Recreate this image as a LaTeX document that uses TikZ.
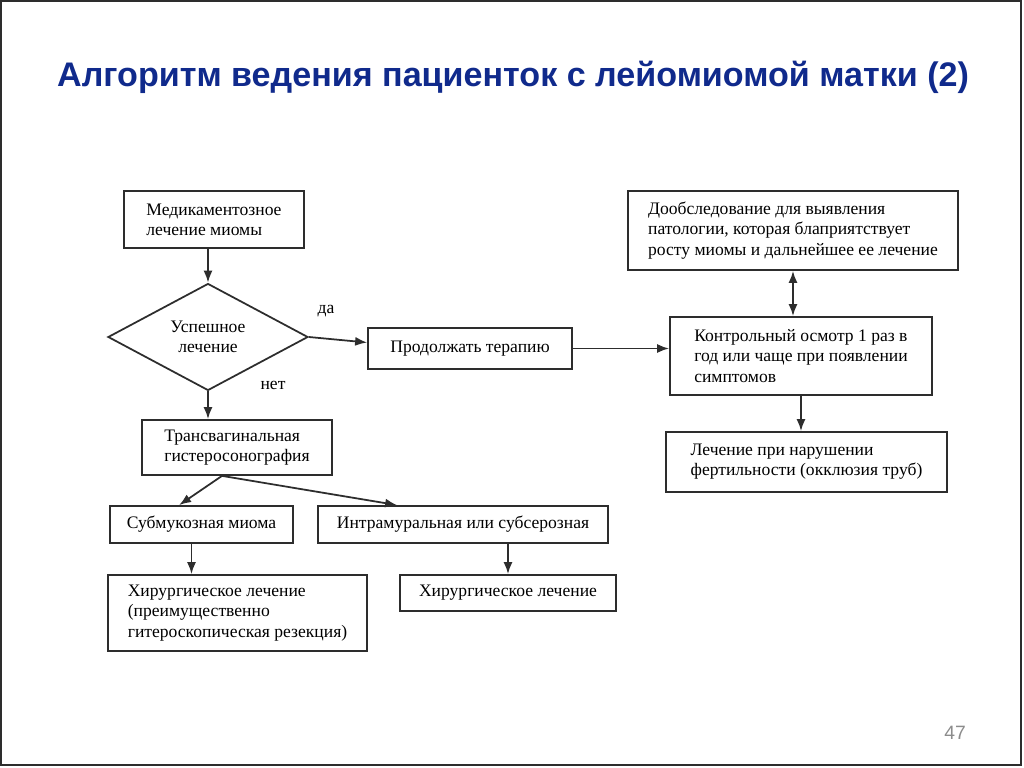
\documentclass[tikz,border=0pt]{standalone}
\usepackage{fontspec}
\setmainfont{Liberation Serif}
\newfontfamily\titlefont{Liberation Sans}
\usepackage{tikz}
\usetikzlibrary{shapes.geometric, arrows, arrows.meta}
\definecolor{titleblue}{RGB}{16, 42, 140}
\definecolor{frame}{RGB}{45, 45, 45}
\definecolor{pagegray}{RGB}{140, 140, 140}
\tikzstyle{block} = [rectangle, draw=frame, line width=1pt, align=left, inner xsep=0.25cm, inner ysep=0.1cm, font=\fontsize{10}{11.5}\selectfont]
\tikzstyle{decision} = [diamond, draw=frame, line width=1pt, align=center, inner sep=0pt, minimum width=4cm, minimum height=1.8cm, font=\fontsize{10}{11.5}\selectfont]
\tikzstyle{flow} = [line width=1pt, draw=frame, -{Latex[length=2.4mm, width=1.8mm]}]
\tikzstyle{twoway} = [line width=1pt, draw=frame, {Latex[length=2.4mm, width=1.8mm]}-{Latex[length=2.4mm, width=1.8mm]}]
\tikzstyle{answer} = [inner sep=0pt, font=\fontsize{10}{11.5}\selectfont]

\begin{document}
\begin{tikzpicture}[y=-1cm]
     \useasboundingbox (0, 0) rectangle (20.48, 15.36);
     \draw[line width=1.2pt, color=frame] (0.02, 0.02) rectangle (20.42, 15.30);
     \node (title) at (10.26, 1.54) [font=\titlefont\bfseries\fontsize{19.4}{22}\selectfont, color=titleblue]
           {Алгоритм ведения пациенток с лейомиомой матки (2)};
     \node (drugs) at (4.28, 4.39) [block, minimum width=3.6cm, minimum height=1.14cm]
           {Медикаментозное\\лечение миомы};
     \node (success) at (4.16, 6.74) [decision]
           {Успешное\\лечение};
     \node (yes) at (6.52, 6.22) [answer] {да};
     \node (no) at (5.46, 7.70) [answer] {нет};
     \node (continue) at (9.40, 6.97) [block, minimum width=4.08cm, minimum height=0.82cm]
           {Продолжать терапию};
     \node (further) at (15.86, 4.61) [block, minimum width=6.6cm, minimum height=1.58cm]
           {Дообследование для выявления\\патологии, которая блаприятствует\\росту миомы и дальнейшее ее лечение};
     \node (control) at (16.02, 7.12) [block, minimum width=5.24cm, minimum height=1.56cm]
           {Контрольный осмотр 1 раз в\\год или чаще при появлении\\симптомов};
     \node (fertility) at (16.13, 9.24) [block, minimum width=5.62cm, minimum height=1.2cm]
           {Лечение при нарушении\\фертильности (окклюзия труб)};
     \node (sono) at (4.74, 8.95) [block, minimum width=3.8cm, minimum height=1.1cm]
           {Трансвагинальная\\гистеросонография};
     \node (submucous) at (4.03, 10.49) [block, minimum width=3.66cm, minimum height=0.74cm]
           {Субмукозная миома};
     \node (intramural) at (9.26, 10.49) [block, minimum width=5.8cm, minimum height=0.74cm]
           {Интрамуральная или субсерозная};
     \node (surgery1) at (4.75, 12.26) [block, minimum width=5.18cm, minimum height=1.52cm]
           {Хирургическое лечение\\(преимущественно\\гитероскопическая резекция)};
     \node (surgery2) at (10.16, 11.86) [block, minimum width=4.32cm, minimum height=0.72cm]
           {Хирургическое лечение};
     \node (page) at (19.10, 14.66) [font=\titlefont\fontsize{11}{13}\selectfont, color=pagegray] {47};
     \draw[flow] (drugs.south -| success.north) -- (success.north);
     \draw[flow] (success.east) -- ([yshift=0.12cm]continue.west);
     \draw[flow] (continue.east) -- (continue.east -| control.west);
     \draw[twoway] (control.north -| further.south) -- (further.south);
     \draw[flow] (control.south) -- (control.south |- fertility.north);
     \draw[flow] (success.south) -- (success.south |- sono.north);
     \draw[flow] ([xshift=-0.3cm]sono.south) -- ([xshift=1.4cm]submucous.north west);
     \draw[flow] ([xshift=-0.3cm]sono.south) -- ([xshift=1.6cm]intramural.north west);
     \draw[flow] ([xshift=-0.2cm]submucous.south) -- ([xshift=-0.2cm]submucous.south |- surgery1.north);
     \draw[flow] (surgery2.north |- intramural.south) -- (surgery2.north);
\end{tikzpicture}
\end{document}
